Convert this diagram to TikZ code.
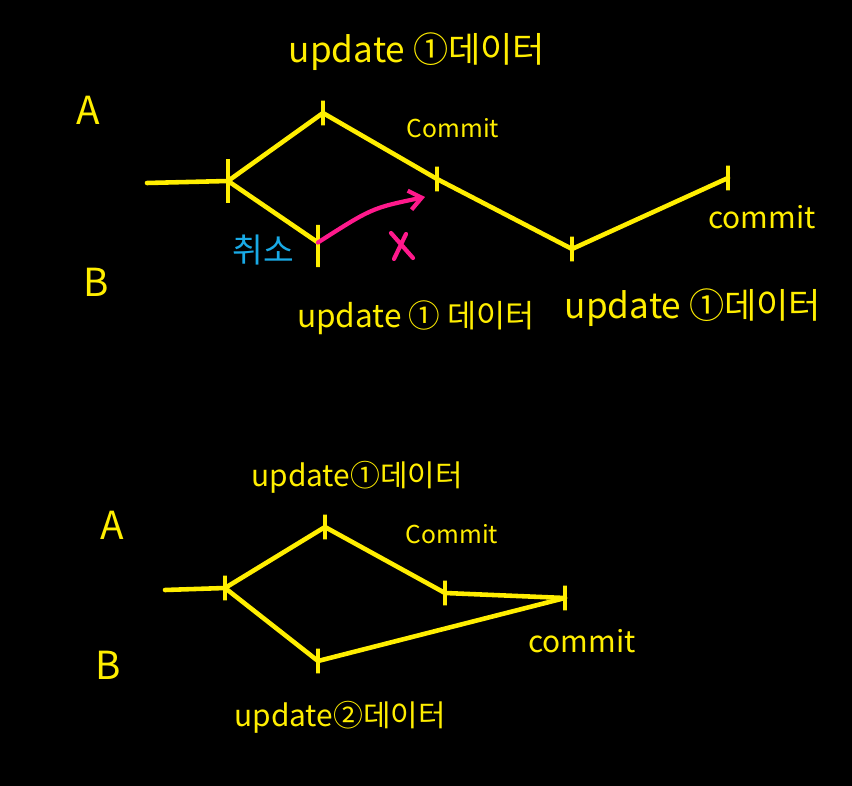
\documentclass[tikz,border=0pt]{standalone}
\usepackage{fontspec}
\setmainfont{Noto Sans CJK KR}
\usetikzlibrary{arrows.meta,positioning}
\definecolor{penyellow}{RGB}{255,238,0}
\definecolor{penblue}{RGB}{25,170,230}
\definecolor{penpink}{RGB}{255,25,140}

\begin{document}
\begin{tikzpicture}[x=0.02cm, y=-0.02cm]
  \tikzstyle{pen}=[draw=penyellow, line width=2.6pt, line cap=round, line join=round]
  \tikzstyle{tick}=[draw=penyellow, line width=2.6pt, inner sep=0pt, minimum width=0pt, minimum height=14pt]
  \tikzstyle{lbl}=[text=penyellow, inner sep=1pt, font=\fontsize{17}{20}\selectfont]
  \tikzstyle{small}=[text=penyellow, inner sep=1pt, font=\fontsize{14}{16}\selectfont]
  \tikzstyle{big}=[text=penyellow, inner sep=1pt, font=\fontsize{22}{24}\selectfont]
  \fill[black] (0,0) rectangle (852,786);
  \useasboundingbox (0,0) rectangle (852,786);

  % first case: B is cancelled
  \coordinate (s1) at (147,183);
  \node[tick, minimum height=25pt] (f1) at (228,181) {};
  \node[tick] (a1) at (323,113) {};
  \node[tick] (c1) at (437,179) {};
  \node[tick] (u1) at (572,249) {};
  \node[tick] (e1) at (728,178) {};
  \node[tick, minimum height=24pt] (b1) at (318,246) {};
  \draw[pen] (s1) -- (f1.center) -- (a1.center) -- (c1.center) -- (u1.center) -- (e1.center);
  \draw[pen] (f1.center) -- ([yshift=2pt]b1.center);
  \coordinate (r1) at (425,197);
  \draw[penpink, line width=2.4pt, line cap=round, -{Straight Barb[length=7pt, width=11pt]}]
    ([yshift=2pt]b1.center) .. controls (372,208) .. (r1);
  \draw[penpink, line width=2.4pt, line cap=round] (391,233) -- (413,258) (406,234) -- (394,259);
  \node[text=penblue, font=\fontsize{19}{21}\selectfont] (cancel) at (263,250) {취소};

  \node[big] (la1) at (88,110) {A};
  \node[big] (lb1) at (96,282) {B};
  \node[lbl, font=\fontsize{20}{22}\selectfont] (ua1) at (417,52) {update ①데이터};
  \node[small] (ca1) at (453,128) {Commit};
  \node[lbl] (ce1) at (762,217) {commit};
  \node[lbl, font=\fontsize{18}{20}\selectfont] (ub1) at (416,318) {update ① 데이터};
  \node[lbl, font=\fontsize{20}{22}\selectfont] (uu1) at (693,308) {update ①데이터};

  % second case: both commit
  \coordinate (s2) at (165,590);
  \node[tick] (f2) at (225,588) {};
  \node[tick] (a2) at (325,527) {};
  \node[tick] (c2) at (445,593) {};
  \node[tick] (e2) at (565,598) {};
  \node[tick] (b2) at (318,661) {};
  \draw[pen] (s2) -- (f2.center) -- (a2.center) -- (c2.center) -- (e2.center);
  \draw[pen] (f2.center) -- (b2.center) -- (e2.center);

  \node[big] (la2) at (112,525) {A};
  \node[big] (lb2) at (108,665) {B};
  \node[lbl] (ua2) at (357,477) {update①데이터};
  \node[small] (ca2) at (452,534) {Commit};
  \node[lbl] (ce2) at (582,641) {commit};
  \node[lbl] (ub2) at (340,717) {update②데이터};
\end{tikzpicture}
\end{document}
